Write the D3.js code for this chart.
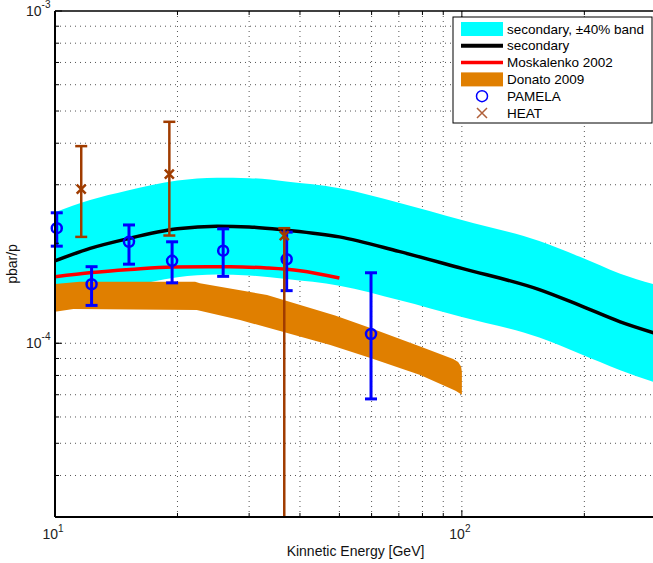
<!DOCTYPE html>
<html>
<head>
<meta charset="utf-8">
<script src="https://cdn.jsdelivr.net/npm/d3@7"></script>
<style>
    body { margin: 0; background: #fff; }
    text { font-family: 'Liberation Sans', Arial, Helvetica, sans-serif; }
</style>
</head>
<body>
<svg id="chart"></svg>
<script>
// secondary prediction (values in units of 1e-4)
var secE = [10, 12.2, 15, 20, 25, 30, 37, 50, 70, 100, 155, 195, 245, 300];
var secR = [1.77, 1.93, 2.06, 2.21, 2.25, 2.24, 2.19, 2.09, 1.89, 1.68, 1.45, 1.30, 1.16, 1.07];
// +-40% band edges
var bandHi = [2.48, 2.70, 2.88, 3.09, 3.15, 3.14, 3.07, 2.93, 2.65, 2.35, 2.03, 1.82, 1.62, 1.50];
var bandLo = [1.26, 1.38, 1.47, 1.58, 1.61, 1.60, 1.56, 1.49, 1.35, 1.20, 1.04, 0.93, 0.83, 0.76];

// Moskalenko 2002
var moskE = [10, 12.3, 15.3, 19.4, 26.9, 33.2, 40, 50];
var moskR = [1.586, 1.633, 1.668, 1.697, 1.70, 1.685, 1.654, 1.572];

// Donato 2009 band
var donUpE = [10, 11.5, 22.1, 22.7, 33.2, 48.8, 59.6, 79, 95.2, 97.9, 99.6, 100];
var donUpR = [1.507, 1.531, 1.531, 1.515, 1.397, 1.213, 1.112, 0.977, 0.897, 0.878, 0.85, 0.82];
var donLoE = [10, 11.1, 22.3, 28.5, 47.5, 59.6, 79, 96.5, 100];
var donLoR = [1.245, 1.268, 1.259, 1.175, 0.988, 0.903, 0.803, 0.72, 0.70];

// PAMELA
var pamE = [10.1, 12.3, 15.2, 19.4, 25.9, 37.1, 59.8];
var pamR = [2.22, 1.505, 2.02, 1.77, 1.90, 1.79, 1.066];
var pamHi = [2.47, 1.70, 2.27, 2.02, 2.21, 2.16, 1.63];
var pamLo = [1.96, 1.30, 1.73, 1.52, 1.59, 1.44, 0.68];

// HEAT
var heatE = [11.6, 19.1, 36.6];
var heatR = [2.91, 3.23, 2.11];
var heatHi = [3.92, 4.64, 2.22];
var heatLo = [2.09, 2.11, 0.01];

var xTicks = [10, 100];
var yTicks = [1e-4, 1e-3];
var xTickLabels = ['1', '2'];
var yTickLabels = ['-4', '-3'];

var W = 653, H = 563;
var MARGIN = { LEFT: 55, RIGHT: -3, TOP: 11, BOTTOM: 46 };

var svg = d3.select('#chart').attr('width', W).attr('height', H);

var x = d3.scaleLog().domain([10, 300]).range([MARGIN.LEFT, W - MARGIN.RIGHT]);
var y = d3.scaleLog().domain([3e-5, 1e-3]).range([H - MARGIN.BOTTOM, MARGIN.TOP]);

function pts(es, rs) {
    return es.map(function (e, i) { return [e, rs[i] * 1e-4]; });
}

var x0 = x.range()[0], x1 = x.range()[1], y0 = y.range()[0], y1 = y.range()[1];

svg.append('clipPath').attr('id', 'clip')
    .append('rect')
    .attr('x', x0).attr('y', y1)
    .attr('width', x1 - x0).attr('height', y0 - y1);
// markers may spill sideways, but not past the bottom
svg.append('clipPath').attr('id', 'clipMarks')
    .append('rect')
    .attr('x', 0).attr('y', 0)
    .attr('width', W).attr('height', y0);

// grid (major + minor, dotted)
var xGrid = [20, 30, 40, 50, 60, 70, 80, 90, 100, 200];
var yGrid = [];
[1e-5, 1e-4].forEach(function (d) {
    for (var k = 1; k <= 9; k++) {
        var v = d * k;
        if (v > 3e-5 && v < 1e-3) yGrid.push(v);
    }
});

var grid = svg.append('g').attr('class', 'grid');
grid.selectAll('line.gx').data(xGrid).enter()
    .append('line')
    .attr('x1', function (d) { return x(d); })
    .attr('x2', function (d) { return x(d); })
    .attr('y1', y0).attr('y2', y1)
    .attr('stroke', '#555').attr('stroke-width', 1)
    .attr('stroke-dasharray', '1,4');
grid.selectAll('line.gy').data(yGrid).enter()
    .append('line')
    .attr('y1', function (d) { return y(d); })
    .attr('y2', function (d) { return y(d); })
    .attr('x1', x0).attr('x2', x1)
    .attr('stroke', '#555').attr('stroke-width', 1)
    .attr('stroke-dasharray', '1,4');

var plot = svg.append('g').attr('clip-path', 'url(#clip)');
var marks = svg.append('g').attr('clip-path', 'url(#clipMarks)');

var line = d3.line()
    .x(function (d) { return x(d[0]); })
    .y(function (d) { return y(d[1]); })
    .curve(d3.curveMonotoneX);

// secondary band
var band = d3.area()
    .x(function (d) { return x(d[0]); })
    .y0(function (d) { return y(d[2]); })
    .y1(function (d) { return y(d[1]); })
    .curve(d3.curveMonotoneX);

var bandData = secE.map(function (e, i) { return [e, bandHi[i] * 1e-4, bandLo[i] * 1e-4]; });
plot.append('path')
    .attr('d', band(bandData))
    .attr('fill', '#00ffff');

// Donato polygon
var donPoly = pts(donUpE, donUpR).concat(pts(donLoE, donLoR).reverse());
plot.append('path')
    .attr('d', d3.line()
        .x(function (d) { return x(d[0]); })
        .y(function (d) { return y(d[1]); })(donPoly) + 'Z')
    .attr('fill', '#e07f00');

plot.append('path')
    .attr('d', line(pts(secE, secR)))
    .attr('fill', 'none').attr('stroke', '#000').attr('stroke-width', 3.5);

plot.append('path')
    .attr('d', line(pts(moskE, moskR)))
    .attr('fill', 'none').attr('stroke', '#ff0000').attr('stroke-width', 3.5);

function errorBars(es, rs, his, los, color, width) {
    var g = marks.append('g');
    es.forEach(function (e, i) {
        var cx = x(e), yt = y(his[i] * 1e-4), yb = y(los[i] * 1e-4);
        g.append('line').attr('x1', cx).attr('x2', cx).attr('y1', yt).attr('y2', yb)
            .attr('stroke', color).attr('stroke-width', width);
        [yt, yb].forEach(function (yy) {
            g.append('line').attr('x1', cx - 6).attr('x2', cx + 6).attr('y1', yy).attr('y2', yy)
                .attr('stroke', color).attr('stroke-width', width);
        });
    });
    return g;
}

var pg = errorBars(pamE, pamR, pamHi, pamLo, '#0000ff', 3);
pg.selectAll('circle').data(pamE).enter()
    .append('circle')
    .attr('cx', function (d) { return x(d); })
    .attr('cy', function (d, i) { return y(pamR[i] * 1e-4); })
    .attr('r', 5)
    .attr('fill', 'none').attr('stroke', '#0000ff').attr('stroke-width', 2.5);

var hg = errorBars(heatE, heatR, heatHi, heatLo, '#a03c00', 2.5);
heatE.forEach(function (e, i) {
    var cx = x(e), cy = y(heatR[i] * 1e-4), s = 4.5;
    hg.append('path')
        .attr('d', 'M' + (cx - s) + ',' + (cy - s) + 'L' + (cx + s) + ',' + (cy + s) +
            'M' + (cx - s) + ',' + (cy + s) + 'L' + (cx + s) + ',' + (cy - s))
        .attr('stroke', '#a03c00').attr('stroke-width', 2.5);
});

// axes frame and ticks (inward, MATLAB style)
var axesG = svg.append('g');
axesG.append('line').attr('x1', x0).attr('x2', x0).attr('y1', y0).attr('y2', y1)
    .attr('stroke', '#000').attr('stroke-width', 2);
axesG.append('line').attr('x1', x0).attr('x2', x1).attr('y1', y0).attr('y2', y0)
    .attr('stroke', '#000').attr('stroke-width', 2);
axesG.append('line').attr('x1', x0).attr('x2', x1).attr('y1', y1).attr('y2', y1)
    .attr('stroke', '#000').attr('stroke-width', 1.5);

var xMinor = [20, 30, 40, 50, 60, 70, 80, 90, 200];
[y0, y1].forEach(function (yy, k) {
    var dir = k === 0 ? -1 : 1;
    xTicks.forEach(function (t) {
        axesG.append('line').attr('x1', x(t)).attr('x2', x(t)).attr('y1', yy).attr('y2', yy + dir * 7)
            .attr('stroke', '#000').attr('stroke-width', 1);
    });
    xMinor.forEach(function (t) {
        axesG.append('line').attr('x1', x(t)).attr('x2', x(t)).attr('y1', yy).attr('y2', yy + dir * 4)
            .attr('stroke', '#000').attr('stroke-width', 1);
    });
});
yTicks.forEach(function (t) {
    axesG.append('line').attr('x1', x0).attr('x2', x0 + 7).attr('y1', y(t)).attr('y2', y(t))
        .attr('stroke', '#000').attr('stroke-width', 1);
});
yGrid.forEach(function (t) {
    axesG.append('line').attr('x1', x0).attr('x2', x0 + 4).attr('y1', y(t)).attr('y2', y(t))
        .attr('stroke', '#000').attr('stroke-width', 1);
});

// tick labels 10^n
xTicks.forEach(function (t, i) {
    var tx = axesG.append('text')
        .attr('x', x(t) - 2).attr('y', y0 + 22)
        .attr('text-anchor', 'middle')
        .style('font-size', '14px').attr('fill', '#222');
    tx.append('tspan').text('10');
    tx.append('tspan').attr('dy', -7).style('font-size', '10px').text(xTickLabels[i]);
});
yTicks.forEach(function (t, i) {
    var ty = axesG.append('text')
        .attr('x', x0 - 29).attr('y', y(t) + 5)
        .style('font-size', '14px').attr('fill', '#222');
    ty.append('tspan').text('10');
    ty.append('tspan').attr('dy', -8).style('font-size', '10px').text(yTickLabels[i]);
});

svg.append('text')
    .attr('x', (x0 + x1) / 2).attr('y', 556)
    .attr('text-anchor', 'middle')
    .style('font-size', '14px').attr('fill', '#111')
    .text('Kinnetic Energy [GeV]');

svg.append('text')
    .attr('transform', 'translate(17,' + ((y0 + y1) / 2) + ') rotate(-90)')
    .attr('text-anchor', 'middle')
    .style('font-size', '14px').attr('fill', '#111')
    .text('pbar/p');

// legend
var legendItems = ['secondary, \u00b140% band', 'secondary', 'Moskalenko 2002', 'Donato 2009', 'PAMELA', 'HEAT'];
var LEG = { X: 453, Y: 17, W: 199, H: 106 };
var leg = svg.append('g');
leg.append('rect')
    .attr('x', LEG.X).attr('y', LEG.Y).attr('width', LEG.W).attr('height', LEG.H)
    .attr('fill', '#fff').attr('stroke', '#000').attr('stroke-width', 1);

legendItems.forEach(function (name, i) {
    var cy = 29 + i * 16.8;
    if (i === 0 || i === 3) {
        leg.append('rect').attr('x', 461).attr('y', cy - 7).attr('width', 42).attr('height', 14)
            .attr('fill', i === 0 ? '#00ffff' : '#e07f00');
    } else if (i === 1 || i === 2) {
        leg.append('line').attr('x1', 461).attr('x2', 503).attr('y1', cy).attr('y2', cy)
            .attr('stroke', i === 1 ? '#000' : '#ff0000').attr('stroke-width', i === 1 ? 4 : 3.5);
    } else if (i === 4) {
        leg.append('circle').attr('cx', 482).attr('cy', cy).attr('r', 5.5)
            .attr('fill', 'none').attr('stroke', '#0000ff').attr('stroke-width', 1.5);
    } else {
        leg.append('path')
            .attr('d', 'M477,' + (cy - 5) + 'L487,' + (cy + 5) + 'M477,' + (cy + 5) + 'L487,' + (cy - 5))
            .attr('stroke', '#b0603a').attr('stroke-width', 1.5);
    }
    leg.append('text')
        .attr('x', 507).attr('y', cy + 4.5)
        .style('font-size', '13.5px').attr('fill', '#000')
        .text(name);
});
</script>
</body>
</html>
